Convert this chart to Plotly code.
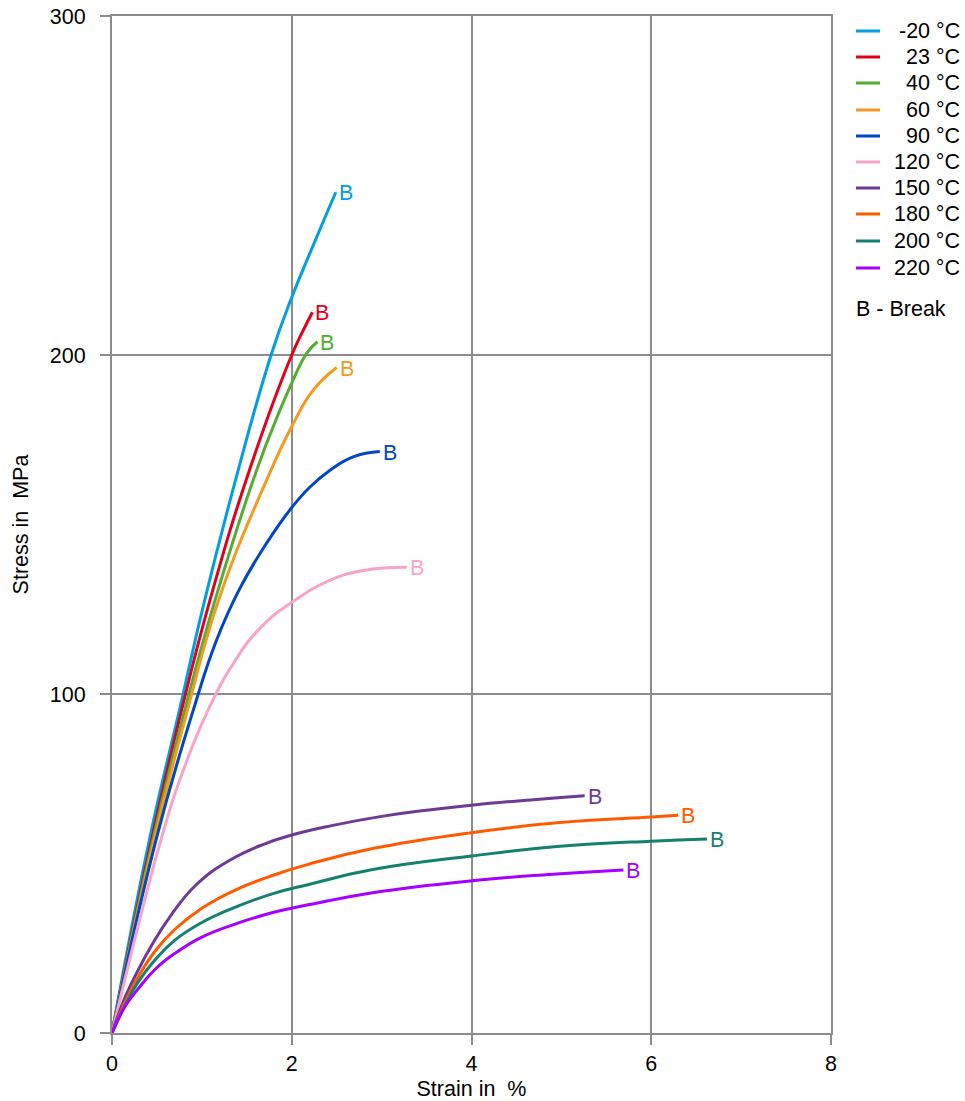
import plotly.graph_objects as go

# ---- data (strain in %, stress in MPa) ----
labels = ["-20 °C", "23 °C", "40 °C", "60 °C", "90 °C", "120 °C", "150 °C", "180 °C", "200 °C", "220 °C"]
colors = ["#009FE3", "#E2001A", "#52AE32", "#F39A20", "#0047C6", "#F9A3C8", "#713996", "#FF5A00", "#168070", "#A600FF"]

strain_m20 = [0, 0.42, 0.757, 1.016, 1.405, 1.77, 2.0, 2.24, 2.49]
stress_m20 = [0, 57.5, 96, 126, 166.1, 200, 217, 232.4, 248]

strain_23 = [0, 0.44, 0.775, 1.09, 1.53, 2.0, 2.13, 2.23]
stress_23 = [0, 57, 95.3, 127.7, 166.1, 200, 207.4, 212.6]

strain_40 = [0, 0.455, 0.81, 1.15, 1.61, 1.87, 2.006, 2.166, 2.285]
stress_40 = [0, 57, 95.3, 128, 166.1, 183.8, 192.1, 200.5, 203.9]

strain_60 = [0, 0.47, 0.84, 1.19, 1.72, 2.0, 2.24, 2.50]
stress_60 = [0, 57, 95.3, 128, 163.1, 178.9, 189.7, 196.3]

strain_90 = [0, 0.49, 0.905, 1.165, 1.42, 1.72, 2.0, 2.2, 2.43, 2.69, 2.98]
stress_90 = [0, 57, 95.3, 116, 131, 144.5, 155, 161, 166.1, 170.0, 171.5]

strain_120 = [0, 0.545, 0.8, 1.07, 1.35, 1.65, 2.01, 2.43, 2.83, 3.28]
stress_120 = [0, 57, 78, 95.3, 109, 119.5, 127.2, 133.6, 136.6, 137.4]

strain_150 = [0, 0.145, 0.29, 0.44, 0.65, 0.94, 1.3, 1.68, 2.0, 2.43, 3.0, 3.5, 4.0, 4.58, 5.26]
stress_150 = [0, 10.5, 18.5, 25.8, 34.5, 43.8, 50.8, 55.6, 58.4, 61.1, 63.9, 65.7, 67.2, 68.6, 70.0]

strain_180 = [0, 0.145, 0.29, 0.48, 0.7, 1.0, 1.4, 1.8, 2.2, 2.9, 4.0, 4.95, 6.0, 6.30]
stress_180 = [0, 9.0, 16.5, 24.2, 30.6, 36.8, 42.5, 46.6, 49.9, 54.4, 59.1, 62.0, 63.7, 64.2]

strain_200 = [0, 0.145, 0.29, 0.48, 0.7, 1.0, 1.4, 1.8, 2.2, 2.9, 4.0, 4.95, 6.0, 6.62]
stress_200 = [0, 8.2, 15.0, 21.6, 27.4, 32.6, 37.4, 41.2, 43.9, 48.2, 52.2, 55.0, 56.6, 57.2]

strain_220 = [0, 0.145, 0.29, 0.48, 0.7, 1.0, 1.4, 1.8, 2.2, 2.9, 4.0, 4.95, 5.69]
stress_220 = [0, 7.8, 13.0, 18.8, 23.5, 28.3, 32.4, 35.6, 37.9, 41.4, 44.9, 46.9, 48.1]

strains = [strain_m20, strain_23, strain_40, strain_60, strain_90, strain_120,
           strain_150, strain_180, strain_200, strain_220]
stresses = [stress_m20, stress_23, stress_40, stress_60, stress_90, stress_120,
            stress_150, stress_180, stress_200, stress_220]

x_ticks = [0, 2, 4, 6, 8]
y_ticks = [0, 100, 200, 300]
break_label = "B"
break_note = "B - Break"

FONT = "Liberation Sans, Arial, sans-serif"
FS = 21.5
GRID = "#8C8C8C"

fig = go.Figure()
annotations = []
shapes = []

# plot area in pixels: left 112, right 831, top 16, bottom 1033
def px2paper_x(px):
    return (px - 112) / 719.0

def px2paper_y(py):
    return (1033 - py) / 1017.0

for i, (xs, ys) in enumerate(zip(strains, stresses)):
    fig.add_trace(go.Scatter(
        x=xs, y=ys, mode="lines", name=labels[i],
        line=dict(color=colors[i], width=3, shape="spline", smoothing=1.3),
        showlegend=False, hoverinfo="skip",
    ))
    annotations.append(dict(
        x=xs[-1], y=ys[-1], xref="x", yref="y", text=break_label,
        showarrow=False, xanchor="left", yanchor="middle", xshift=1, yshift=-1,
        font=dict(family=FONT, size=FS, color=colors[i]),
    ))

# manual legend
legend_y = [31, 57, 83, 110, 136, 162, 188, 214, 241, 268]
for i, lab in enumerate(labels):
    yp = px2paper_y(legend_y[i])
    shapes.append(dict(
        type="line", xref="paper", yref="paper",
        x0=px2paper_x(856), x1=px2paper_x(880), y0=yp, y1=yp,
        line=dict(color=colors[i], width=3),
    ))
    annotations.append(dict(
        x=px2paper_x(962), y=yp, xref="paper", yref="paper", text=lab,
        showarrow=False, xanchor="right", yanchor="middle",
        font=dict(family=FONT, size=FS, color="#000000"),
    ))
annotations.append(dict(
    x=px2paper_x(854), y=px2paper_y(309), xref="paper", yref="paper", text=break_note,
    showarrow=False, xanchor="left", yanchor="middle",
    font=dict(family=FONT, size=FS, color="#000000"),
))

fig.update_layout(
    width=965, height=1101,
    margin=dict(l=112, r=134, t=16, b=68, autoexpand=False),
    paper_bgcolor="white", plot_bgcolor="white",
    font=dict(family=FONT, size=FS, color="#000000"),
    showlegend=False,
    annotations=annotations,
    shapes=shapes,
)
fig.update_xaxes(
    range=[0, 8], tickvals=x_ticks, ticktext=[str(v) for v in x_ticks],
    automargin=False,
    showgrid=True, gridcolor=GRID, gridwidth=2,
    zeroline=False, showline=True, linecolor=GRID, linewidth=2, mirror=True,
    ticks="outside", ticklen=10, tickwidth=2, tickcolor=GRID,
    tickfont=dict(family=FONT, size=FS, color="#000000"),
    title=dict(text="Strain in  %", font=dict(family=FONT, size=FS, color="#000000")),
)
fig.update_yaxes(
    range=[0, 300], tickvals=y_ticks, ticktext=[str(v) for v in y_ticks],
    automargin=False,
    showgrid=True, gridcolor=GRID, gridwidth=2,
    zeroline=False, showline=True, linecolor=GRID, linewidth=2, mirror=True,
    ticks="outside", ticklen=10, tickwidth=2, tickcolor=GRID,
    tickfont=dict(family=FONT, size=FS, color="#000000"),
    ticklabelstandoff=10,
    title=dict(text="Stress in  MPa", font=dict(family=FONT, size=FS, color="#000000")),
)

fig.write_html("out.html", config={"displayModeBar": False},
               post_script="document.body.style.margin='0px';")
